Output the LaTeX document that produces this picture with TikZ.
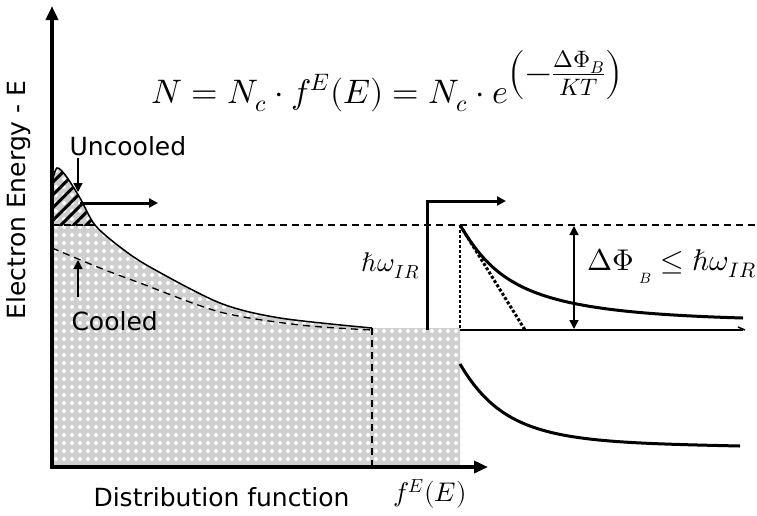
\documentclass[tikz,border=0pt]{standalone}
\usepackage{fontspec}
\usepackage{unicode-math}
\setmainfont{DejaVu Sans}
\setmathfont{Latin Modern Math}
\usetikzlibrary{arrows.meta,patterns.meta}
\begin{document}
\begin{tikzpicture}[x=1pt,y=-1pt, every node/.style={font=\fontsize{25}{29}\selectfont},
    thk/.style={line width=3pt}, tip/.style={-{Triangle[length=9pt,width=9pt]}},
    dsh/.style={line width=1.3pt, dash pattern=on 7pt off 5pt},
    popul/.style={insert path={(52,465) -- plot[smooth] coordinates {(52,182) (57,168) (66,176) (80,198) (95,225) (120,247) (150,267) (220,303) (280,318) (372,328)} -- (460,328) -- (460,465) -- cycle}}]
    \useasboundingbox (0,0) rectangle (757,515);
    % shaded electron population
    \fill[gray!38, popul];
    \fill[pattern={Dots[distance=8pt,radius=2pt]}, pattern color=white, popul];
    \begin{scope}
        \clip (0,0) rectangle (757,225);
        \fill[pattern={Lines[distance=9pt,line width=3pt,angle=45]}, popul];
    \end{scope}
    \draw[line width=1.5pt] plot[smooth] coordinates {(52,182) (57,168) (66,176) (80,198) (95,225) (120,247) (150,267) (220,303) (280,318) (372,328)};
    \draw[dsh] plot[smooth] coordinates {(52,248) (100,268) (140,283) (220,312) (300,325) (372,330)};
    \draw[dsh] (372,328) -- (372,465);
    \draw[dsh] (52,225) -- (757,225);
    % axes
    \draw[line width=3.5pt, -{Triangle[length=14pt,width=12pt]}] (52,465) -- (52,6);
    \draw[line width=3.5pt, -{Triangle[length=14pt,width=12pt]}] (50,467) -- (488,467);
    \node[rotate=90] (ylab) at (19,200) {Electron Energy - E};
    \node[anchor=west] (xlab) at (90,497) {Distribution function};
    \node[font=\fontsize{27}{30}\selectfont] (fE) at (430,494) {$f^{E}\!\left(E\right)$};
    \node[font=\fontsize{34}{40}\selectfont, anchor=base west] (eq) at (148,103) {$N = N_c\cdot f^{E}\!\left(E\right) = N_c\cdot e^{\textstyle\left(-\frac{\Delta\Phi_B}{KT}\right)}$};
    % labels with arrows
    \node[anchor=west] (unc) at (66,146) {Uncooled};
    \node[anchor=west] (coo) at (68,321) {Cooled};
    \draw[line width=1.5pt, tip] (78,158) -- (78,192);
    \draw[line width=1.5pt, tip] (78,297) -- (78,260);
    \draw[thk, tip] (80,203) -- (158,203);
    % barrier
    \node[font=\fontsize{27}{30}\selectfont, anchor=east] (hw) at (423,266) {$\hbar\omega_{IR}$};
    \draw[thk, tip] (427,330) -- (427,201) -- (506,201);
    \draw[line width=1.5pt] (460,330) -- (743,330);
    \draw[line width=1.5pt] (738,327) -- (745,330);
    \draw[line width=2pt, dash pattern=on 3pt off 2pt] (460,225) -- (460,330);
    \draw[line width=3pt, dotted] (460,225) -- (525,330);
    \draw[thk] (460,225) .. controls (500,292) and (540,312) .. (743,318);
    \draw[line width=1.5pt, {Triangle[length=9pt,width=9pt]}-{Triangle[length=9pt,width=9pt]}] (574,226) -- (574,329);
    \node[font=\fontsize{30}{34}\selectfont] (barr) at (672,266) {$\Delta\Phi\,_{_B}\leq\hbar\omega_{IR}$};
    \draw[thk] (460,364) .. controls (505,440) and (560,442) .. (740,446);
\end{tikzpicture}
\end{document}
